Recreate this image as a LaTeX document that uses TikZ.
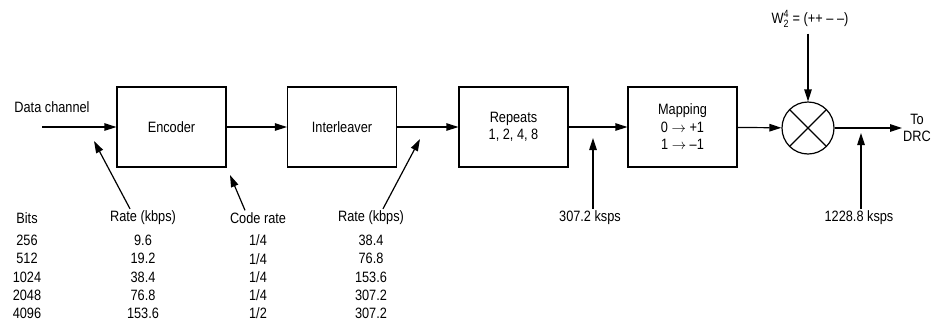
\documentclass[tikz,border=0pt]{standalone}
\usepackage{amsmath}
\usepackage{fontspec}
\setmainfont{Liberation Sans}[FakeStretch=0.85]
\usetikzlibrary{arrows.meta,positioning}
\newcommand{\lblfont}{\fontsize{15}{17.5}\selectfont}
\newcommand{\tabfont}{\fontsize{15}{18.3}\selectfont}

\begin{document}
\begin{tikzpicture}[x=1pt, y=-1pt,
    block/.style={draw, line width=1.2pt, minimum width=109pt, minimum height=80pt, align=center, font=\lblfont},
    lbl/.style={inner sep=2pt, align=center, font=\lblfont},
    col/.style={inner sep=0pt, align=center, font=\tabfont},
    arr/.style={-{Triangle[length=12pt, width=7.5pt]}, line width=1.2pt}
]
\useasboundingbox (0,0) rectangle (931,322);

% blocks along the channel
\node[block] (enc) at (171.5,127) {Encoder};
\node[block] (intl) at (342,127) {Interleaver};
\node[block] (rep) at (513.5,127) {Repeats\\1, 2, 4, 8};
\node[block] (map) at (682.5,127) {Mapping\\0 \ensuremath{\rightarrow} +1\\1 \ensuremath{\rightarrow} --1};
\node[draw, circle, line width=1.2pt, minimum size=52pt, inner sep=0pt,
      path picture={\draw[line width=1.2pt] (path picture bounding box.north west) -- (path picture bounding box.south east)
                    (path picture bounding box.north east) -- (path picture bounding box.south west);}] (mix) at (808,128) {};

% input, output and Walsh code
\coordinate (in) at (42,127);
\node[lbl] (data) at (52,107) {Data channel};
\node[lbl, inner sep=1pt] (drc) at (917,128) {To\\DRC};
\node[lbl] (walsh) at (810,19) {W$^{\text{4}}_{\text{2}}$ = (++ -- --)};

\draw[arr] (in) -- (enc);
\draw[arr] (enc) -- (intl);
\draw[arr] (intl) -- (rep);
\draw[arr] (rep) -- (map);
\draw[arr] (map) -- (mix);
\draw[arr] (mix.east) -- (drc.west |- mix.east);
\draw[arr] (walsh.south -| mix.north) ++(0,4) -- (mix.north);

% rate labels under the chain
\node[lbl] (bits) at (27,218) {Bits};
\node[lbl] (rateA) at (143,218) {Rate (kbps)};
\node[lbl] (code) at (258,218) {Code rate};
\node[lbl] (rateB) at (371,218) {Rate (kbps)};
\node[lbl] (ksA) at (590,218) {307.2 ksps};
\node[lbl] (ksB) at (859,218) {1228.8 ksps};

\coordinate (rateAtip) at (94,141);
\coordinate (codetip) at (230,175);
\coordinate (rateBtip) at (420,139);
\coordinate (ksAtip) at (593,138);
\coordinate (ksBtip) at (861,133);

\draw[arr] ([xshift=-13pt]rateA.north) -- (rateAtip);
\draw[arr] ([xshift=-13pt]code.north) -- (codetip);
\draw[arr] ([xshift=12pt]rateB.north) -- (rateBtip);
\draw[arr] (ksAtip |- ksA.north) -- (ksAtip);
\draw[arr] (ksBtip |- ksB.north) -- (ksBtip);

% table values
\node[col] (bitsval) at (27,277) {256\\512\\1024\\2048\\4096};
\node[col] (rateAval) at (143,277) {9.6\\19.2\\38.4\\76.8\\153.6};
\node[col] (codeval) at (258,277) {1/4\\1/4\\1/4\\1/4\\1/2};
\node[col] (rateBval) at (371,277) {38.4\\76.8\\153.6\\307.2\\307.2};
\end{tikzpicture}
\end{document}
